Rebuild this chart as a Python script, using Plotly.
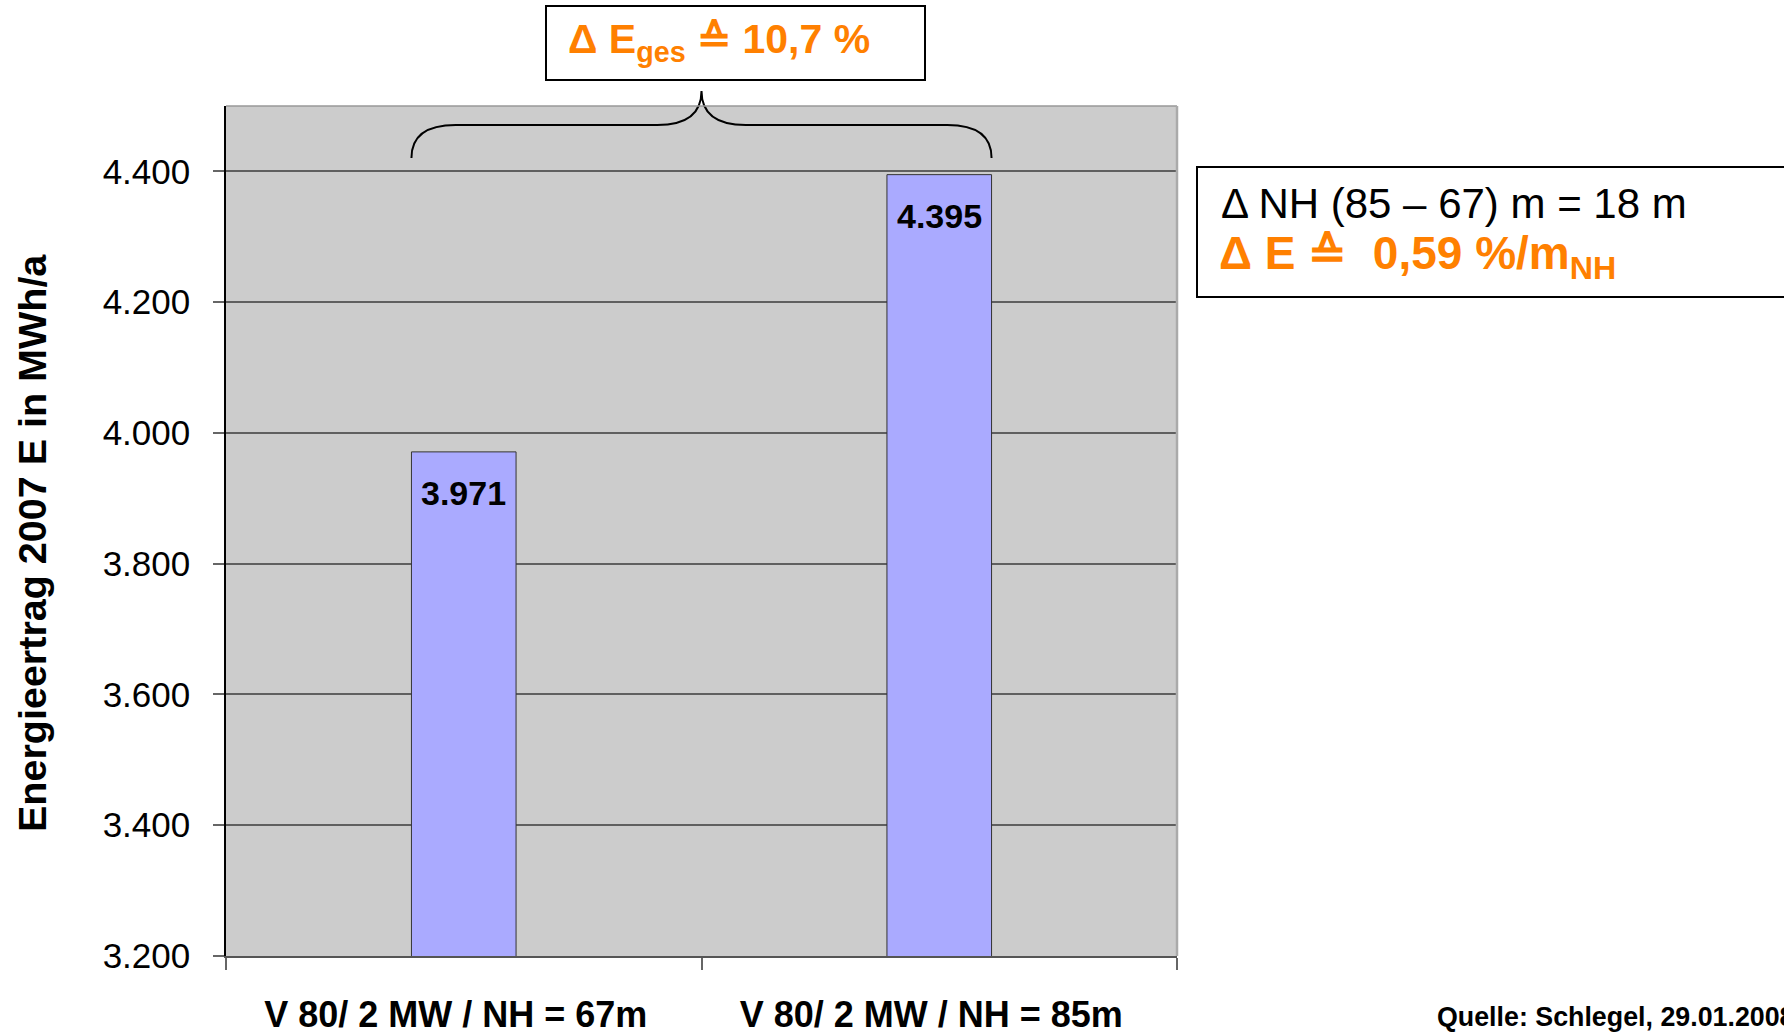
import plotly.graph_objects as go

# ---- data ----
categories = ["V 80/ 2 MW / NH = 67m", "V 80/ 2 MW / NH = 85m"]
energy_mwh = [3971, 4395]
y_ticks = [3200, 3400, 3600, 3800, 4000, 4200, 4400]
delta_total_label = "\u0394 E<sub>ges</sub> \u2259 10,7 %"
delta_nh_label = "\u0394 NH (85 \u2013 67) m = 18 m"
delta_e_label = "\u0394 E \u2259  0,59 %/m<sub>NH</sub>"
y_title = "Energieertrag 2007 E in MWh/a"
source_label = "Quelle: Schlegel, 29.01.2008"

# ---- layout geometry (page body margin removed in post_script) ----
FW, FH = 1784, 1034
L_REF, R_REF, T_REF, B_REF = 226, 1177, 106, 956   # plot area in screen pixels
PW, PH = R_REF - L_REF, B_REF - T_REF
L, T = L_REF, T_REF
R, B = FW - L - PW, FH - T - PH


def px(xp):
    return (xp - L_REF) / PW


def py(yp):
    return (B_REF - yp) / PH


ORANGE = "#FF8000"
FONT = "Arial, Liberation Sans, sans-serif"
BARGAP = 0.78

fig = go.Figure()
fig.add_trace(go.Bar(
    x=categories, y=energy_mwh,
    marker=dict(color="#AAAAFF", line=dict(color="#333333", width=1)),
    hoverinfo="skip",
))

# bar value labels
for c, v in zip(categories, energy_mwh):
    fig.add_annotation(
        x=c, y=v, xref="x", yref="y",
        text=f"{v:,}".replace(",", "."),
        showarrow=False, yanchor="top", yshift=-20,
        font=dict(family=FONT, size=34, color="black", weight="bold"),
    )

# y-axis title
fig.add_annotation(
    x=px(32), y=py(543), xref="paper", yref="paper",
    text=y_title, textangle=-90, showarrow=False,
    xanchor="center", yanchor="middle",
    font=dict(family=FONT, size=39.5, color="black", weight="bold"),
)

# box 1 (top)
fig.add_shape(type="rect", xref="paper", yref="paper",
              x0=px(546), x1=px(925), y0=py(80), y1=py(6),
              line=dict(color="black", width=2), fillcolor="white")
fig.add_annotation(
    x=px(566), y=py(42), xref="paper", yref="paper",
    text=delta_total_label, showarrow=False, xanchor="left", yanchor="middle",
    font=dict(family=FONT, size=41, color=ORANGE, weight="bold"),
)

# box 2 (right)
fig.add_shape(type="rect", xref="paper", yref="paper",
              x0=px(1197), x1=px(1900), y0=py(297), y1=py(167),
              line=dict(color="black", width=2), fillcolor="white")
fig.add_annotation(
    x=px(1219), y=py(204), xref="paper", yref="paper",
    text=delta_nh_label, showarrow=False, xanchor="left", yanchor="middle",
    font=dict(family=FONT, size=42, color="black"),
)
fig.add_annotation(
    x=px(1217), y=py(256), xref="paper", yref="paper",
    text=delta_e_label, showarrow=False, xanchor="left", yanchor="middle",
    font=dict(family=FONT, size=46, color=ORANGE, weight="bold"),
)

# source (runs off the right edge, as in the reference)
fig.add_annotation(
    x=px(1435), y=py(1017), xref="paper", yref="paper",
    text=source_label, showarrow=False, xanchor="left", yanchor="middle",
    font=dict(family=FONT, size=26.8, color="black", weight="bold"),
)

# curly brace spanning both bars
bw = 1 - BARGAP
x0, x1, xc = -bw / 2, 1 + bw / 2, 0.5
r = 0.093
ye, yh, yt = py(158), py(125), py(91)
brace = (f"M {x0},{ye} Q {x0},{yh} {x0 + r},{yh} L {xc - r},{yh} "
         f"Q {xc},{yh} {xc},{yt} Q {xc},{yh} {xc + r},{yh} "
         f"L {x1 - r},{yh} Q {x1},{yh} {x1},{ye}")
fig.add_shape(type="path", xref="x", yref="paper", path=brace,
              line=dict(color="black", width=2))

# plot area borders (top and right)
fig.add_shape(type="line", xref="paper", yref="paper", x0=0, x1=1, y0=1, y1=1,
              line=dict(color="#999999", width=1.5))
fig.add_shape(type="line", xref="paper", yref="paper", x0=1, x1=1, y0=0, y1=1,
              line=dict(color="#AAAAAA", width=2.5))

fig.update_layout(
    width=FW, height=FH,
    margin=dict(l=L, r=R, t=T, b=B, autoexpand=False),
    paper_bgcolor="white", plot_bgcolor="#CCCCCC",
    separators=",.",
    bargap=BARGAP,
    showlegend=False,
    font=dict(family=FONT, color="black"),
)
fig.update_xaxes(
    type="category", tickson="boundaries", ticks="outside", ticklen=12,
    tickcolor="#666666", tickwidth=2,
    showline=True, linecolor="#555555", linewidth=2,
    showgrid=False, ticklabelstandoff=26, ticklabelshift=-8,
    tickfont=dict(family=FONT, size=36, color="black", weight="bold"),
)
fig.update_yaxes(
    range=[3200, 4500], tickvals=y_ticks, tickformat=",d",
    ticks="outside", ticklen=11, tickcolor="#666666", tickwidth=2,
    showline=True, linecolor="black", linewidth=1.5,
    showgrid=True, gridcolor="#5F5F5F", gridwidth=2,
    zeroline=False, ticklabelstandoff=16,
    tickfont=dict(family=FONT, size=35, color="black"),
)

fig.write_html(
    "out.html",
    config={"displayModeBar": False},
    post_script="document.body.style.margin='0';document.body.style.overflow='hidden';",
)
